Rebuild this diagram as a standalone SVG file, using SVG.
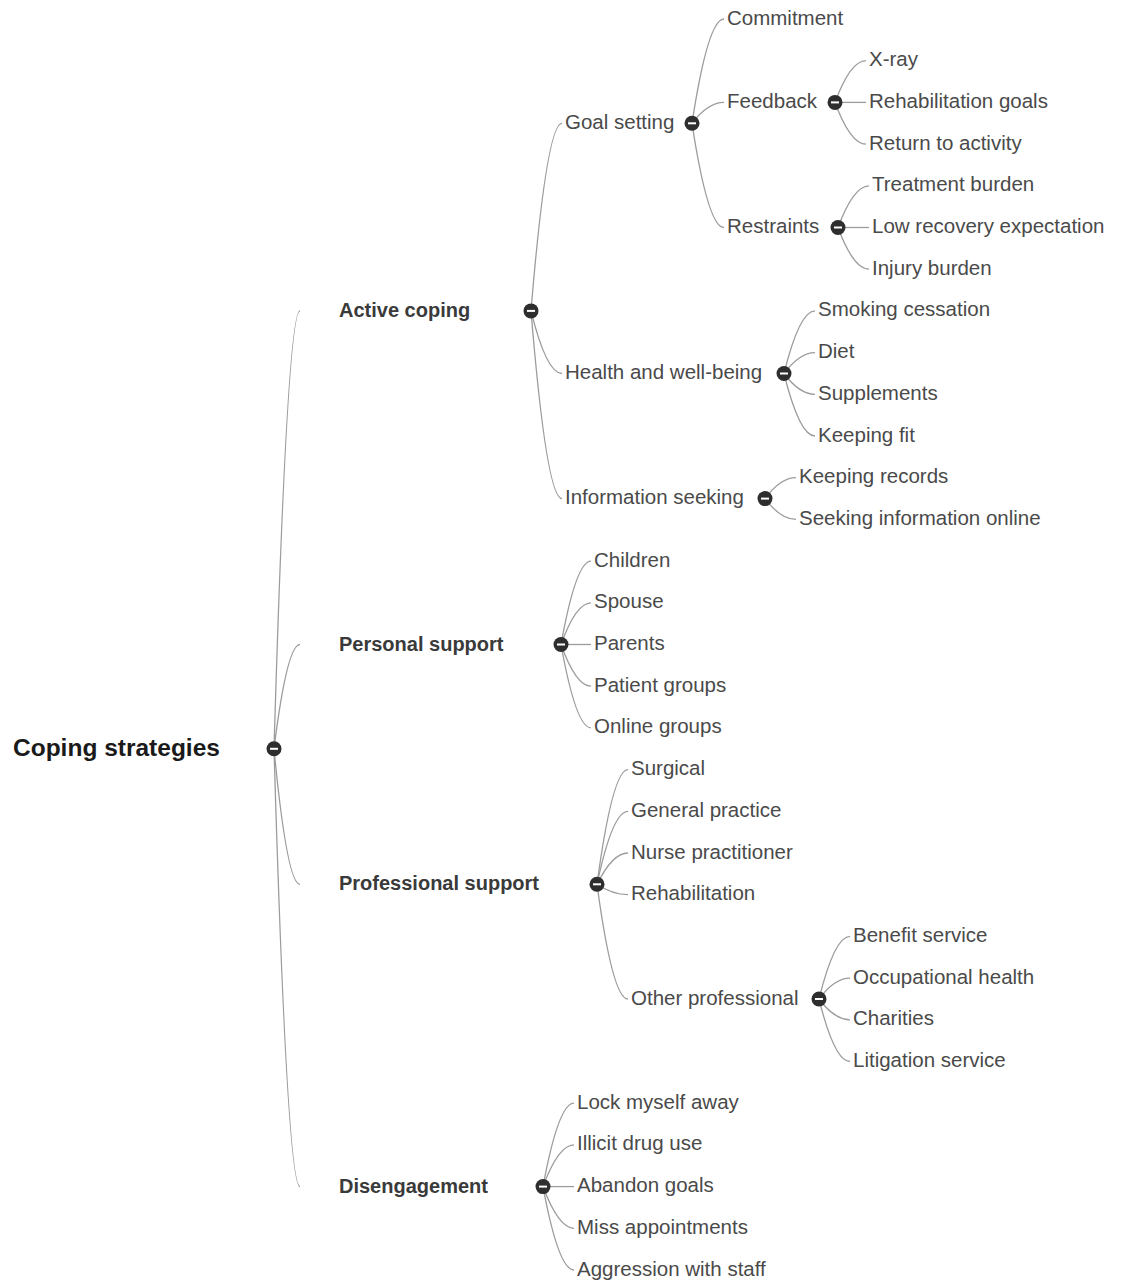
<svg xmlns="http://www.w3.org/2000/svg" xmlns:xlink="http://www.w3.org/1999/xlink" width="1121" height="1283" viewBox="0 0 1121 1283">
<style>
.link{fill:none;stroke:#9c9c9c;stroke-width:1.3}
.lbl{font-family:"Liberation Sans",Arial,sans-serif;font-size:20.5px;fill:#4a4a4a}
.l1{font-family:"Liberation Sans",Arial,sans-serif;font-size:20px;font-weight:bold;fill:#3a3a3a}
.root{font-family:"Liberation Sans",Arial,sans-serif;font-size:24.5px;font-weight:bold;fill:#1a1a1a}
</style>
<defs>
<g id="tog"><circle r="7.5" fill="#2e2e2e"/><line x1="-4" y1="0" x2="4" y2="0" stroke="#fff" stroke-width="2"/></g>
</defs>
<rect width="1121" height="1283" fill="#fff"/>
<g id="links">
<path class="link" d="M274,748.8 Q287,310.9 300,310.9"/>
<path class="link" d="M274,748.8 Q287,644.5 300,644.5"/>
<path class="link" d="M274,748.8 Q287,884.3 300,884.3"/>
<path class="link" d="M274,748.8 Q287,1186.6 300,1186.6"/>
<path class="link" d="M531,310.9 Q546.5,123.3 562,123.3"/>
<path class="link" d="M531,310.9 Q546.5,373.5 562,373.5"/>
<path class="link" d="M531,310.9 Q546.5,498.6 562,498.6"/>
<path class="link" d="M692,123.3 Q708,19 724,19"/>
<path class="link" d="M692,123.3 Q708,102.4 724,102.4"/>
<path class="link" d="M692,123.3 Q708,227.5 724,227.5"/>
<path class="link" d="M835,102.4 Q850.5,60.7 866,60.7"/>
<path class="link" d="M835,102.4 L866,102.4"/>
<path class="link" d="M835,102.4 Q850.5,144.1 866,144.1"/>
<path class="link" d="M838,227.5 Q853.5,185.8 869,185.8"/>
<path class="link" d="M838,227.5 L869,227.5"/>
<path class="link" d="M838,227.5 Q853.5,269.2 869,269.2"/>
<path class="link" d="M784,373.5 Q799.5,310.9 815,310.9"/>
<path class="link" d="M784,373.5 Q799.5,352.6 815,352.6"/>
<path class="link" d="M784,373.5 Q799.5,394.3 815,394.3"/>
<path class="link" d="M784,373.5 Q799.5,436 815,436"/>
<path class="link" d="M765,498.6 Q780.5,477.7 796,477.7"/>
<path class="link" d="M765,498.6 Q780.5,519.4 796,519.4"/>
<path class="link" d="M561,644.5 Q576,561.1 591,561.1"/>
<path class="link" d="M561,644.5 Q576,602.8 591,602.8"/>
<path class="link" d="M561,644.5 L591,644.5"/>
<path class="link" d="M561,644.5 Q576,686.2 591,686.2"/>
<path class="link" d="M561,644.5 Q576,727.9 591,727.9"/>
<path class="link" d="M597,884.3 Q612.5,769.6 628,769.6"/>
<path class="link" d="M597,884.3 Q612.5,811.3 628,811.3"/>
<path class="link" d="M597,884.3 Q612.5,853 628,853"/>
<path class="link" d="M597,884.3 Q612.5,894.7 628,894.7"/>
<path class="link" d="M597,884.3 Q612.5,999 628,999"/>
<path class="link" d="M819,999 Q834.5,936.4 850,936.4"/>
<path class="link" d="M819,999 Q834.5,978.1 850,978.1"/>
<path class="link" d="M819,999 Q834.5,1019.8 850,1019.8"/>
<path class="link" d="M819,999 Q834.5,1061.5 850,1061.5"/>
<path class="link" d="M543,1186.6 Q558.5,1103.2 574,1103.2"/>
<path class="link" d="M543,1186.6 Q558.5,1144.9 574,1144.9"/>
<path class="link" d="M543,1186.6 L574,1186.6"/>
<path class="link" d="M543,1186.6 Q558.5,1228.3 574,1228.3"/>
<path class="link" d="M543,1186.6 Q558.5,1270 574,1270"/>
</g>
<g id="n-root"><text class="root" x="13" y="755.5">Coping strategies</text><use href="#tog" x="274" y="748.8"/></g>
<g id="n-active"><text class="l1" x="339" y="317">Active coping</text><use href="#tog" x="531" y="310.9"/></g>
<g id="n-personal"><text class="l1" x="339" y="650.6">Personal support</text><use href="#tog" x="561" y="644.5"/></g>
<g id="n-professional"><text class="l1" x="339" y="890.4">Professional support</text><use href="#tog" x="597" y="884.3"/></g>
<g id="n-disengagement"><text class="l1" x="339" y="1192.7">Disengagement</text><use href="#tog" x="543" y="1186.6"/></g>
<g id="n-goal"><text class="lbl" x="565" y="128.8">Goal setting</text><use href="#tog" x="692" y="123.3"/></g>
<g id="n-health"><text class="lbl" x="565" y="379">Health and well-being</text><use href="#tog" x="784" y="373.5"/></g>
<g id="n-info"><text class="lbl" x="565" y="504.1">Information seeking</text><use href="#tog" x="765" y="498.6"/></g>
<g id="n-commitment"><text class="lbl" x="727" y="24.5">Commitment</text></g>
<g id="n-feedback"><text class="lbl" x="727" y="107.9">Feedback</text><use href="#tog" x="835" y="102.4"/></g>
<g id="n-restraints"><text class="lbl" x="727" y="233">Restraints</text><use href="#tog" x="838" y="227.5"/></g>
<g id="n-xray"><text class="lbl" x="869" y="66.2">X-ray</text></g>
<g id="n-rehabgoals"><text class="lbl" x="869" y="107.9">Rehabilitation goals</text></g>
<g id="n-return"><text class="lbl" x="869" y="149.6">Return to activity</text></g>
<g id="n-treatment"><text class="lbl" x="872" y="191.3">Treatment burden</text></g>
<g id="n-lowrec"><text class="lbl" x="872" y="233">Low recovery expectation</text></g>
<g id="n-injury"><text class="lbl" x="872" y="274.7">Injury burden</text></g>
<g id="n-smoking"><text class="lbl" x="818" y="316.4">Smoking cessation</text></g>
<g id="n-diet"><text class="lbl" x="818" y="358.1">Diet</text></g>
<g id="n-supplements"><text class="lbl" x="818" y="399.8">Supplements</text></g>
<g id="n-fit"><text class="lbl" x="818" y="441.5">Keeping fit</text></g>
<g id="n-records"><text class="lbl" x="799" y="483.2">Keeping records</text></g>
<g id="n-online-info"><text class="lbl" x="799" y="524.9">Seeking information online</text></g>
<g id="n-children"><text class="lbl" x="594" y="566.6">Children</text></g>
<g id="n-spouse"><text class="lbl" x="594" y="608.3">Spouse</text></g>
<g id="n-parents"><text class="lbl" x="594" y="650">Parents</text></g>
<g id="n-patientgroups"><text class="lbl" x="594" y="691.7">Patient groups</text></g>
<g id="n-onlinegroups"><text class="lbl" x="594" y="733.4">Online groups</text></g>
<g id="n-surgical"><text class="lbl" x="631" y="775.1">Surgical</text></g>
<g id="n-gp"><text class="lbl" x="631" y="816.8">General practice</text></g>
<g id="n-nurse"><text class="lbl" x="631" y="858.5">Nurse practitioner</text></g>
<g id="n-rehab"><text class="lbl" x="631" y="900.2">Rehabilitation</text></g>
<g id="n-otherprof"><text class="lbl" x="631" y="1004.5">Other professional</text><use href="#tog" x="819" y="999"/></g>
<g id="n-benefit"><text class="lbl" x="853" y="941.9">Benefit service</text></g>
<g id="n-occ"><text class="lbl" x="853" y="983.6">Occupational health</text></g>
<g id="n-charities"><text class="lbl" x="853" y="1025.3">Charities</text></g>
<g id="n-litigation"><text class="lbl" x="853" y="1067">Litigation service</text></g>
<g id="n-lock"><text class="lbl" x="577" y="1108.7">Lock myself away</text></g>
<g id="n-illicit"><text class="lbl" x="577" y="1150.4">Illicit drug use</text></g>
<g id="n-abandon"><text class="lbl" x="577" y="1192.1">Abandon goals</text></g>
<g id="n-miss"><text class="lbl" x="577" y="1233.8">Miss appointments</text></g>
<g id="n-aggression"><text class="lbl" x="577" y="1275.5">Aggression with staff</text></g>
</svg>
